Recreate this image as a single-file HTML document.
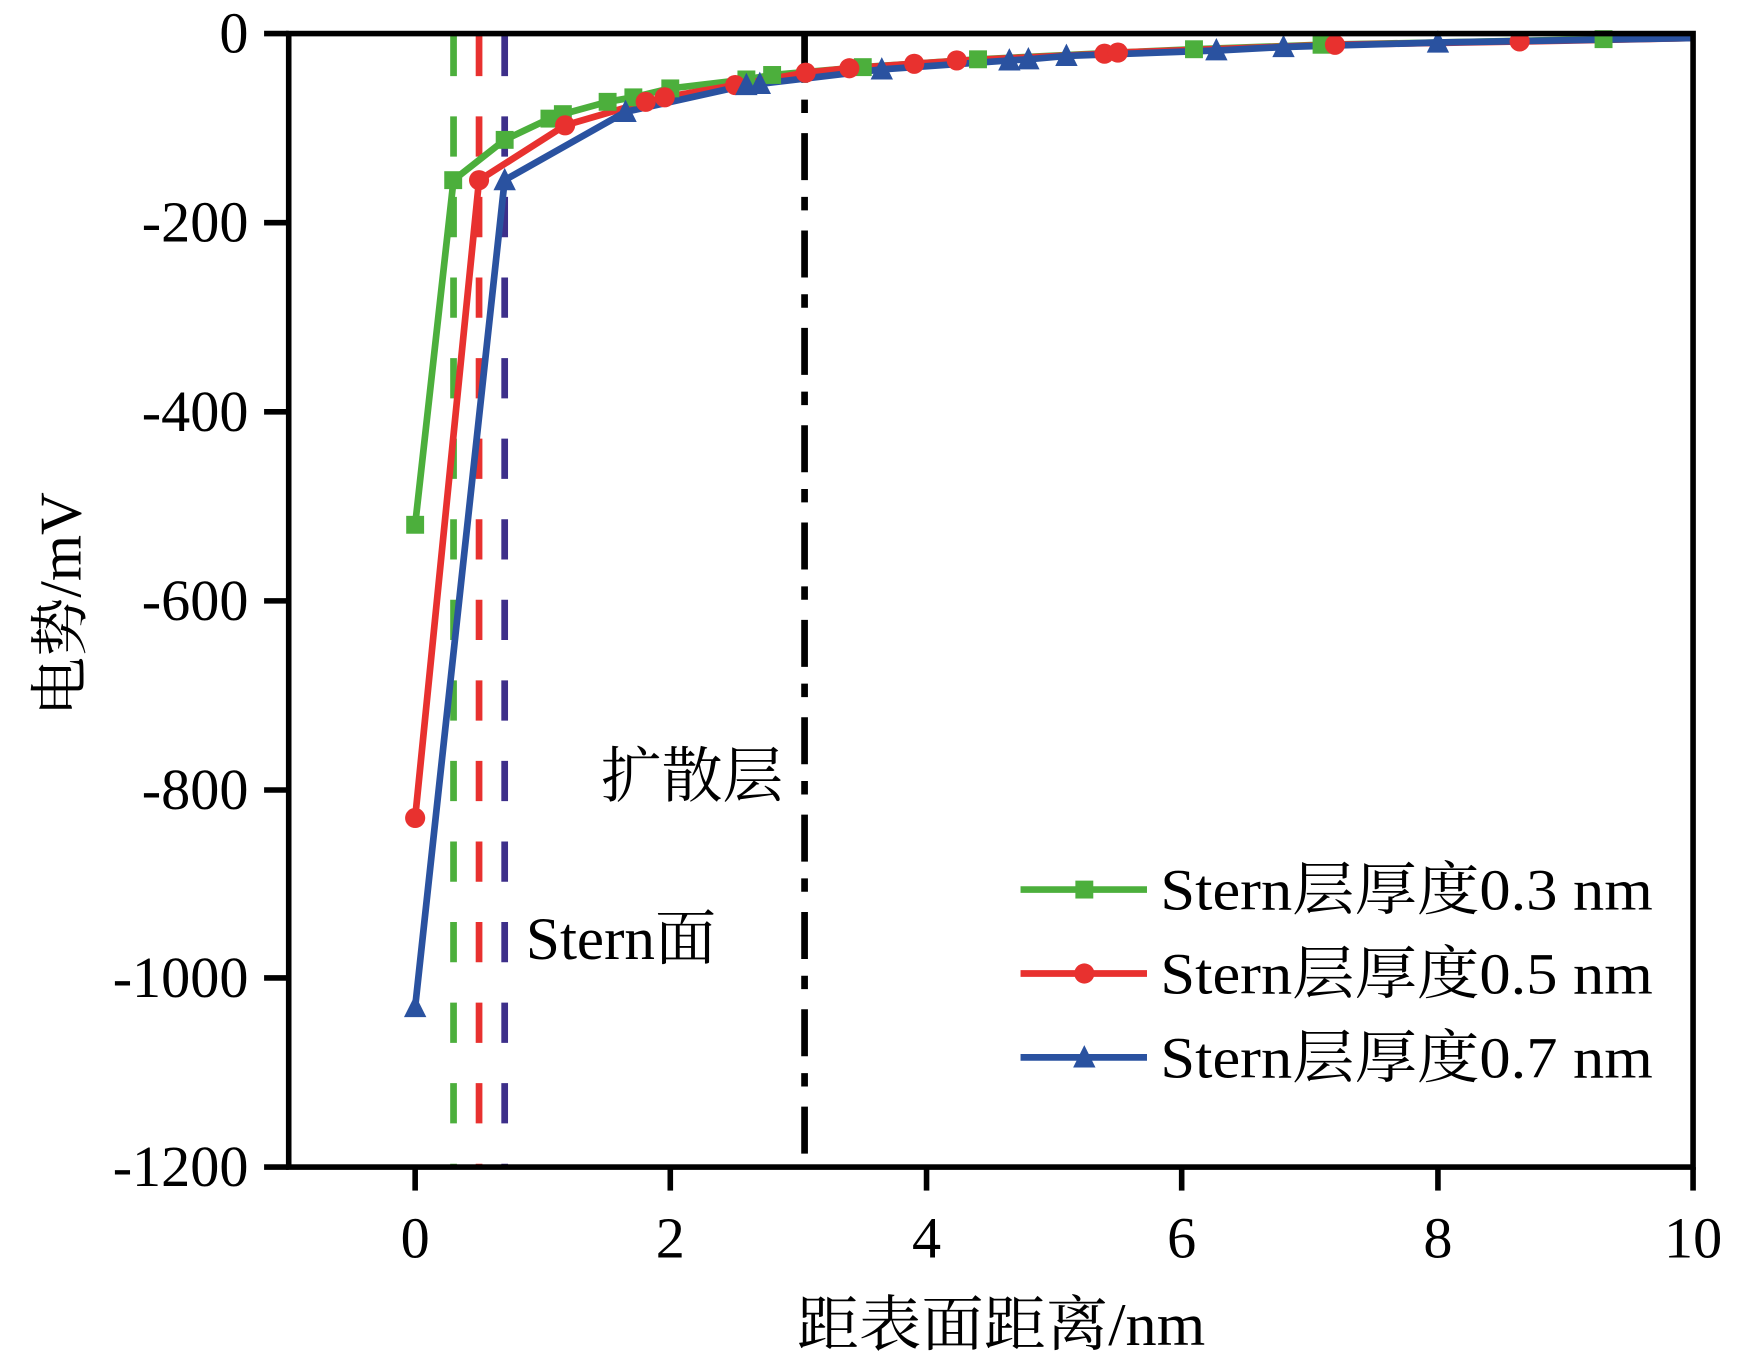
<!DOCTYPE html>
<html><head><meta charset="utf-8"><style>html,body{margin:0;padding:0;background:#fff}svg{display:block}</style></head>
<body>
<svg width="1746" height="1362" viewBox="0 0 1560.3 1217.2" preserveAspectRatio="none" xmlns="http://www.w3.org/2000/svg" font-family="'Liberation Serif','Noto Serif CJK SC',serif">
<rect width="1560.3" height="1217.2" fill="#fff"/>
<line x1="405.3" y1="32" x2="405.3" y2="1043" stroke="#4caf3c" stroke-width="6" stroke-dasharray="36 36"/>
<line x1="428.1" y1="32" x2="428.1" y2="1043" stroke="#e8312f" stroke-width="6" stroke-dasharray="36 36"/>
<line x1="451" y1="32" x2="451" y2="1043" stroke="#3d2f8a" stroke-width="6" stroke-dasharray="36 36"/>
<line x1="719" y1="32" x2="719" y2="1043" stroke="#000" stroke-width="6" stroke-dasharray="42 15 12 18"/>
<g stroke-width="6" fill="none" stroke-linejoin="round">
<polyline stroke="#4caf3c" points="371,469 405.3,161 451,125 491,106 503,102 543,91 566,87 599,79 667,71 690,67 771,60 874,53 999,47 1067,44 1181,40 1285,38 1433,35 1513,34"/>
<polyline stroke="#e8312f" points="371,731 428.1,161 505,112 577,91 594,87 657,76 720,65 759,61 817,57 862,54 987,48 999,47 1193,40 1365,37 1513,34"/>
<polyline stroke="#2a52a0" points="371,900 451,161 559,100 667,76 679,75 788,62 902,54 919,53 953,50 1090,45 1147,42 1285,38 1513,34"/>
</g>
<g fill="#4caf3c">
<rect x="363" y="461" width="16" height="16"/><rect x="397" y="153" width="16" height="16"/><rect x="443" y="117" width="16" height="16"/><rect x="483" y="98" width="16" height="16"/><rect x="495" y="94" width="16" height="16"/><rect x="535" y="83" width="16" height="16"/><rect x="558" y="79" width="16" height="16"/><rect x="591" y="71" width="16" height="16"/><rect x="659" y="63" width="16" height="16"/><rect x="682" y="59" width="16" height="16"/><rect x="763" y="52" width="16" height="16"/><rect x="866" y="45" width="16" height="16"/><rect x="1059" y="36" width="16" height="16"/><rect x="1173" y="32" width="16" height="16"/><rect x="1425" y="27" width="16" height="16"/>
</g>
<g fill="#e8312f">
<circle cx="371" cy="731" r="9"/><circle cx="428.1" cy="161" r="9"/><circle cx="505" cy="112" r="9"/><circle cx="577" cy="91" r="9"/><circle cx="594" cy="87" r="9"/><circle cx="657" cy="76" r="9"/><circle cx="720" cy="65" r="9"/><circle cx="759" cy="61" r="9"/><circle cx="817" cy="57" r="9"/><circle cx="855" cy="54" r="9"/><circle cx="987" cy="48" r="9"/><circle cx="999" cy="47" r="9"/><circle cx="1193" cy="40" r="9"/><circle cx="1358" cy="37" r="9"/>
</g>
<g fill="#2a52a0">
<polygon points="371,889 361,909 381,909"/><polygon points="451,150 441,170 461,170"/><polygon points="559,89 549,109 569,109"/><polygon points="667,65 657,85 677,85"/><polygon points="679,64 669,84 689,84"/><polygon points="788,51 778,71 798,71"/><polygon points="902,43 892,63 912,63"/><polygon points="919,42 909,62 929,62"/><polygon points="953,39 943,59 963,59"/><polygon points="1087,34 1077,54 1097,54"/><polygon points="1147,31 1137,51 1157,51"/><polygon points="1285,27 1275,47 1295,47"/>
</g>
<rect x="258" y="30" width="1255" height="1013" fill="none" stroke="#000" stroke-width="5"/>
<g stroke="#000" stroke-width="5">
<line x1="236" y1="30" x2="258" y2="30"/><line x1="236" y1="199" x2="258" y2="199"/><line x1="236" y1="368" x2="258" y2="368"/><line x1="236" y1="537" x2="258" y2="537"/><line x1="236" y1="706" x2="258" y2="706"/><line x1="236" y1="874" x2="258" y2="874"/><line x1="236" y1="1043" x2="258" y2="1043"/>
<line x1="371" y1="1043" x2="371" y2="1064"/><line x1="599" y1="1043" x2="599" y2="1064"/><line x1="828" y1="1043" x2="828" y2="1064"/><line x1="1056" y1="1043" x2="1056" y2="1064"/><line x1="1285" y1="1043" x2="1285" y2="1064"/><line x1="1513" y1="1043" x2="1513" y2="1064"/>
</g>
<g font-size="52" text-anchor="end">
<text x="222" y="47">0</text><text x="222" y="216">-200</text><text x="222" y="385">-400</text><text x="222" y="554">-600</text><text x="222" y="723">-800</text><text x="222" y="891">-1000</text><text x="222" y="1060">-1200</text>
</g>
<g font-size="52" text-anchor="middle">
<text x="371" y="1124">0</text><text x="599" y="1124">2</text><text x="828" y="1124">4</text><text x="1056" y="1124">6</text><text x="1285" y="1124">8</text><text x="1513" y="1124">10</text>
</g>
<text x="712" y="1202" font-size="54" textLength="365" lengthAdjust="spacingAndGlyphs">距表面距离/nm</text>
<text transform="translate(72,540) rotate(-90)" font-size="53" text-anchor="middle">电势/mV</text>
<text x="537" y="712" font-size="54" textLength="163" lengthAdjust="spacingAndGlyphs">扩散层</text>
<text x="470" y="857" font-size="54" textLength="170" lengthAdjust="spacingAndGlyphs">Stern面</text>
<line x1="912" y1="795" x2="1025" y2="795" stroke="#4caf3c" stroke-width="6"/><rect x="961" y="787" width="16" height="16" fill="#4caf3c"/>
<line x1="912" y1="870" x2="1025" y2="870" stroke="#e8312f" stroke-width="6"/><circle cx="969" cy="870" r="9" fill="#e8312f"/>
<line x1="912" y1="945" x2="1025" y2="945" stroke="#2a52a0" stroke-width="6"/><polygon points="969,934 959,954 979,954" fill="#2a52a0"/>
<g font-size="52">
<text x="1037" y="813" textLength="440" lengthAdjust="spacingAndGlyphs">Stern层厚度0.3 nm</text>
<text x="1037" y="888" textLength="440" lengthAdjust="spacingAndGlyphs">Stern层厚度0.5 nm</text>
<text x="1037" y="963" textLength="440" lengthAdjust="spacingAndGlyphs">Stern层厚度0.7 nm</text>
</g>
</svg>
</body></html>
